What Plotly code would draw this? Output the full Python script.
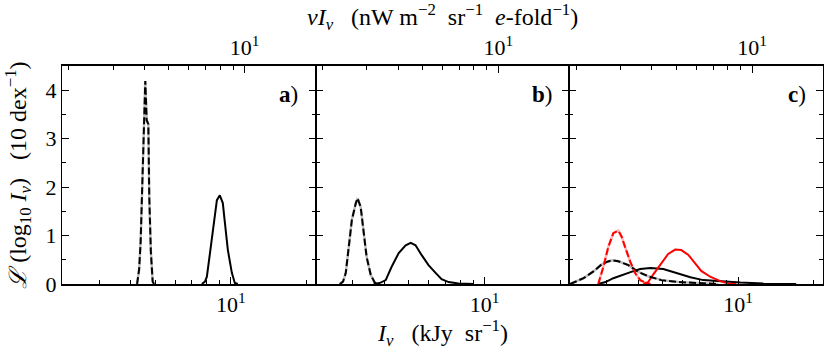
import plotly.graph_objects as go
from plotly.subplots import make_subplots

FONT = "Liberation Serif"
BLACK = "#000000"
GRAY = "#bdbdbd"
RED = "#ff0000"
PINK = "#ffb0b0"

# x values in kJy/sr, y values in 10/dex
# panel a
a_dash_x = [4.24, 4.32, 4.38, 4.47, 4.52, 4.57, 4.63, 4.70, 4.74, 4.81, 4.89, 4.95]
a_dash_y = [0, 0.30, 0.87, 2.29, 3.38, 4.19, 3.38, 3.30, 1.80, 0.66, 0.05, 0]
a_solid_x = [7.67, 7.89, 8.03, 8.34, 8.57, 8.80, 9.04, 9.29, 9.47, 9.73, 10.09, 10.37, 10.66]
a_solid_y = [0, 0.05, 0.15, 0.77, 1.32, 1.73, 1.83, 1.67, 1.26, 0.70, 0.23, 0.02, 0]

# panel b
b_dash_x = [2.66, 2.74, 2.81, 2.88, 2.97, 3.08, 3.13, 3.22, 3.31, 3.40, 3.53, 3.66, 3.76]
b_dash_y = [0, 0.05, 0.23, 0.77, 1.32, 1.67, 1.77, 1.59, 1.11, 0.56, 0.19, 0.03, 0]
b_solid_x = [3.63, 3.83, 4.05, 4.27, 4.56, 4.86, 5.09, 5.32, 5.62, 5.99, 6.39, 6.75, 7.20, 7.88, 9.04]
b_solid_y = [0, 0.02, 0.08, 0.35, 0.64, 0.80, 0.85, 0.80, 0.60, 0.39, 0.23, 0.10, 0.04, 0.01, 0]

# panel c
c_dash_x = [2.15, 2.25, 2.43, 2.66, 2.86, 3.02, 3.16, 3.34, 3.66, 4.01, 4.39, 4.95, 5.78, 6.94, 8.34]
c_dash_y = [0, 0.04, 0.12, 0.26, 0.40, 0.46, 0.49, 0.47, 0.39, 0.25, 0.16, 0.08, 0.04, 0.02, 0]
c_solid_x = [2.78, 2.97, 3.19, 3.50, 3.76, 4.08, 4.48, 5.04, 5.68, 6.46, 7.26, 8.49, 10.2, 12.6, 17.0]
c_solid_y = [0, 0.04, 0.12, 0.20, 0.25, 0.31, 0.33, 0.31, 0.23, 0.14, 0.08, 0.05, 0.03, 0.01, 0]
c_red_dash_x = [2.78, 2.91, 3.05, 3.19, 3.34, 3.44, 3.56, 3.73, 3.90, 4.08, 4.31, 4.48]
c_red_dash_y = [0, 0.35, 0.77, 1.05, 1.10, 0.98, 0.75, 0.45, 0.22, 0.08, 0.02, 0]
c_red_x = [4.20, 4.39, 4.60, 4.95, 5.27, 5.62, 5.94, 6.34, 6.75, 7.13, 7.74, 8.49, 9.12, 9.82]
c_red_y = [0, 0.04, 0.20, 0.42, 0.62, 0.71, 0.70, 0.60, 0.43, 0.27, 0.15, 0.06, 0.01, 0]

panels = [
    dict(label="a", dash=(a_dash_x, a_dash_y), solid=(a_solid_x, a_solid_y)),
    dict(label="b", dash=(b_dash_x, b_dash_y), solid=(b_solid_x, b_solid_y)),
    dict(label="c", dash=(c_dash_x, c_dash_y), solid=(c_solid_x, c_solid_y),
         red_dash=(c_red_dash_x, c_red_dash_y), red=(c_red_x, c_red_y)),
]

BOTTOM_RANGE = [0.329, 1.337]
TOP_RANGE = [0.274, 1.282]
TICK_FONT = dict(family=FONT, size=22, color=BLACK)
LABEL_FONT = dict(family=FONT, size=24, color=BLACK)

fig = make_subplots(rows=1, cols=3, shared_yaxes=True, horizontal_spacing=0)

for i, p in enumerate(panels, start=1):
    dx, dy = p["dash"]
    sx, sy = p["solid"]
    fig.add_trace(go.Scatter(x=dx, y=dy, mode="lines", line=dict(color=GRAY, width=2.5),
                             showlegend=False), row=1, col=i)
    if "red_dash" in p:
        rx, ry = p["red_dash"]
        fig.add_trace(go.Scatter(x=rx, y=ry, mode="lines", line=dict(color=PINK, width=2.5),
                                 showlegend=False), row=1, col=i)
    fig.add_trace(go.Scatter(x=sx, y=sy, mode="lines", line=dict(color=BLACK, width=2),
                             showlegend=False), row=1, col=i)
    if "red" in p:
        rx, ry = p["red"]
        fig.add_trace(go.Scatter(x=rx, y=ry, mode="lines", line=dict(color=RED, width=2),
                                 showlegend=False), row=1, col=i)
    fig.add_trace(go.Scatter(x=dx, y=dy, mode="lines",
                             line=dict(color=BLACK, width=2, dash="7px,3px"),
                             showlegend=False), row=1, col=i)
    if "red_dash" in p:
        rx, ry = p["red_dash"]
        fig.add_trace(go.Scatter(x=rx, y=ry, mode="lines",
                                 line=dict(color=RED, width=2, dash="7px,3px"),
                                 showlegend=False), row=1, col=i)

    # bottom axis
    fig.update_xaxes(
        type="log", range=BOTTOM_RANGE, showgrid=False, zeroline=False, automargin=False,
        showline=True, linecolor=BLACK, linewidth=2,
        tickvals=[10], ticktext=["10<sup>1</sup>"], ticks="inside", ticklen=7,
        tickwidth=1.2, tickcolor=BLACK, tickfont=TICK_FONT,
        minor=dict(tickvals=[3, 4, 5, 6, 7, 8, 9, 20], ticks="inside", ticklen=4,
                   tickwidth=1, tickcolor=BLACK, showgrid=False),
        row=1, col=i,
    )
    # y axis
    fig.update_yaxes(
        range=[0, 4.5], showgrid=False, zeroline=False, automargin=False,
        showline=True, linecolor=BLACK, linewidth=1.2, mirror="ticks",
        tickvals=[0, 1, 2, 3, 4], ticks="inside", ticklen=7, tickwidth=1.2,
        tickcolor=BLACK, tickfont=TICK_FONT, showticklabels=(i == 1),
        minor=dict(tickvals=[0.5, 1.5, 2.5, 3.5], ticks="inside", ticklen=4,
                   tickwidth=1, tickcolor=BLACK, showgrid=False),
        row=1, col=i,
    )

    # top axis
    top = f"xaxis{i + 3}"
    fig.update_layout(**{top: dict(
        type="log", range=TOP_RANGE, overlaying=f"x{i}" if i > 1 else "x",
        side="top", anchor="y" if i == 1 else f"y{i}", automargin=False,
        showgrid=False, zeroline=False, showline=True, linecolor=BLACK, linewidth=2,
        tickvals=[10], ticktext=["10<sup>1</sup>"], ticks="inside", ticklen=7,
        tickwidth=1.2, tickcolor=BLACK, tickfont=TICK_FONT,
        minor=dict(tickvals=[2, 3, 4, 5, 6, 7, 8, 9], ticks="inside", ticklen=4,
                   tickwidth=1, tickcolor=BLACK, showgrid=False),
    )})
    fig.add_trace(go.Scatter(x=[10], y=[0], mode="markers", marker=dict(opacity=0),
                             xaxis=f"x{i + 3}", yaxis="y" if i == 1 else f"y{i}",
                             hoverinfo="skip", showlegend=False))

    fig.add_annotation(
        text=f"<b>{p['label']}</b>)", xref=f"x{i} domain" if i > 1 else "x domain",
        yref="y domain", x=0.94, y=0.867, xanchor="right", yanchor="middle",
        showarrow=False, font=dict(family=FONT, size=23, color=BLACK),
    )

fig.add_annotation(
    text="<i>νI<sub>ν</sub></i>   (nW m<sup>−2</sup>  sr<sup>−1</sup>  <i>e</i>-fold<sup>−1</sup>)",
    xref="paper", yref="paper", x=0.5, y=1.225, xanchor="center", yanchor="middle",
    showarrow=False, font=LABEL_FONT,
)
fig.add_annotation(
    text="<i>I<sub>ν</sub></i>   (kJy  sr<sup>−1</sup>)",
    xref="paper", yref="paper", x=0.5, y=-0.225, xanchor="center", yanchor="middle",
    showarrow=False, font=LABEL_FONT,
)
fig.add_annotation(
    text="<i>ℒ</i> (log<sub>10</sub> <i>I<sub>ν</sub></i>)   (10 dex<sup>−1</sup>)",
    xref="paper", yref="paper", x=-0.058, y=0.5, xanchor="center", yanchor="middle",
    textangle=-90, showarrow=False, font=LABEL_FONT,
)

fig.update_layout(
    template="none",
    width=830, height=351,
    margin=dict(l=62, r=7, t=66, b=67, autoexpand=False),
    paper_bgcolor="white", plot_bgcolor="white",
    font=dict(family=FONT, color=BLACK),
    showlegend=False,
)

# drop the default 8px page margin so the figure fills the window
fig.write_html(
    "out.html",
    config={"displayModeBar": False},
    post_script="document.body.style.margin = '0';",
)
